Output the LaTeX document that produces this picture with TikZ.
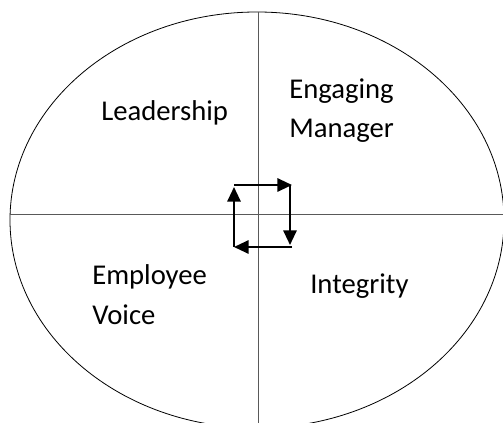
\documentclass[tikz,border=0pt]{standalone}
\usepackage{fontspec}
\setmainfont{Carlito}
\usetikzlibrary{arrows.meta}

\tikzset{
  quadlabel/.style={inner sep=0pt, align=left, font=\fontsize{21.5}{30}\selectfont},
  axisline/.style={draw=black!65, line width=0.6pt},
  cycarrow/.style={draw=black, line width=1.5pt, -{Triangle[length=11pt,width=10pt]}}
}

\begin{document}
\begin{tikzpicture}[x=0.75pt,y=0.75pt,yscale=-1,xscale=1]
%set diagram size to 503 x 423
\useasboundingbox (0,0) rectangle (503,423);
\clip (0,0) rectangle (503,423);
%Shape: Ellipse
\draw [line width=0.6pt] (257,220) ellipse [x radius=247, y radius=208];
%Straight Lines
\coordinate (west) at (10,214);
\coordinate (east) at (503,214);
\coordinate (north) at (258,12);
\coordinate (south) at (258,423);
\draw [axisline] (west) -- (east);
\draw [axisline] (north) -- (south);
%Cycle of arrows
\coordinate (ctl) at (234,185);
\coordinate (ctr) at (290,185);
\coordinate (cbr) at (290,247);
\coordinate (cbl) at (234,247);
\draw [cycarrow] (ctl) -- ([xshift=1.5]ctr);
\draw [cycarrow] (ctr) -- ([yshift=-1.5]cbr);
\draw [cycarrow] ([xshift=1.5]cbr) -- (cbl);
\draw [cycarrow] (cbl) -- ([yshift=1.5]ctl);
% Text Node
\node [quadlabel, anchor=base west] (lead) at (101,121) {Leadership};
% Text Node
\node [quadlabel, anchor=base west] (engage) at (289,99) {Engaging};
\node [quadlabel, anchor=base west] (manager) at (289,138) {Manager};
% Text Node
\node [quadlabel, anchor=base west] (employee) at (92,285) {Employee};
\node [quadlabel, anchor=base west] (voice) at (92,325) {Voice};
% Text Node
\node [quadlabel, anchor=base west] (integrity) at (310,294) {Integrity};
\end{tikzpicture}
\end{document}
